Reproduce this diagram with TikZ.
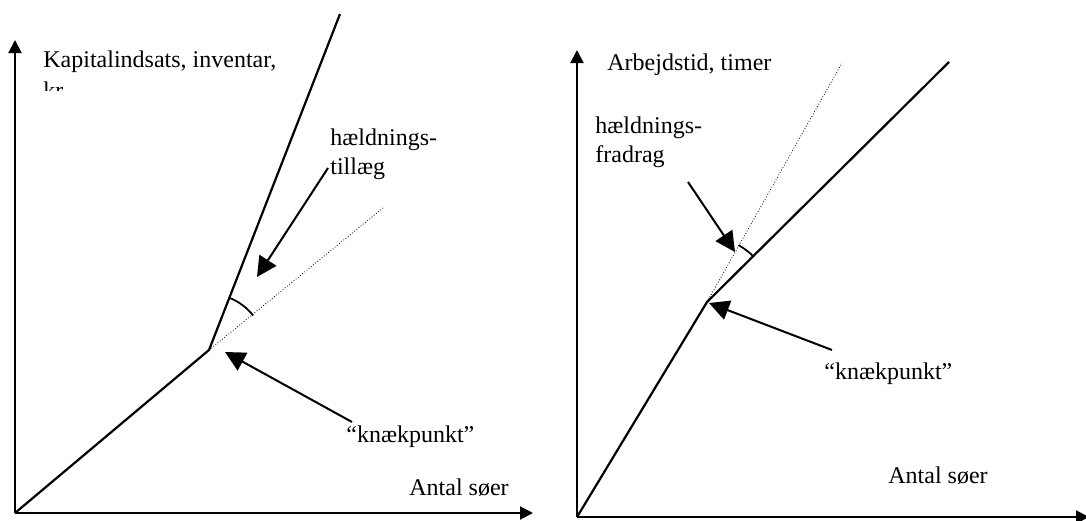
\documentclass[tikz,border=0pt]{standalone}
\usepackage{fontspec}
\setmainfont{Liberation Serif}
\usetikzlibrary{arrows.meta}

\begin{document}
\begin{tikzpicture}[x=0.5pt,y=-0.5pt,
                    axis line/.style={line width=1pt,-{Triangle[length=6.5pt,width=6.5pt]}},
                    curve line/.style={line width=1.1pt},
                    guide line/.style={line width=0.4pt,densely dotted},
                    pointer/.style={line width=1pt,-{Triangle[length=10pt,width=10pt]}},
                    angle mark/.style={line width=0.9pt},
                    label text/.style={inner sep=0pt,anchor=base west,font=\fontsize{12pt}{14pt}\selectfont}]
\useasboundingbox (0,0) rectangle (1086,520);

% left diagram
\coordinate (o1) at (15,513);
\coordinate (ytop1) at (15,40);
\coordinate (xend1) at (533,513);
\coordinate (kink1) at (209,350);
\coordinate (steep1) at (340,14);
\coordinate (dot1) at (383,208);
\coordinate (from tillaeg) at (328,168);
\coordinate (to tillaeg) at (257,277);
\coordinate (from knaek1) at (352,422);
\coordinate (to knaek1) at (225,352);

\draw[axis line] (o1) -- (ytop1);
\draw[axis line] (o1) -- (xend1);
\draw[curve line] (o1) -- (kink1) -- (steep1);
\draw[guide line] (kink1) -- (dot1);
\draw[angle mark] (kink1) ++(-38:56) arc[start angle=-38, end angle=-68, radius=56];
\draw[pointer] (from tillaeg) -- (to tillaeg);
\draw[pointer] (from knaek1) -- (to knaek1);

\node[label text] (kapital) at (43,67) {Kapitalindsats, inventar,};
\begin{scope}
  \clip (0,0) rectangle (330,90);
  \node[label text] (kr) at (43,98) {kr.};
\end{scope}
\node[label text] (haeld1) at (330,145) {hældnings-};
\node[label text] (tillaeg) at (330,174) {tillæg};
\node[label text] (knaek1) at (346,442) {“knækpunkt”};
\node[label text] (antal1) at (409,495) {Antal søer};

% right diagram
\coordinate (o2) at (577,517);
\coordinate (ytop2) at (577,50);
\coordinate (xend2) at (1089,517);
\coordinate (kink2) at (707,302);
\coordinate (steep2) at (949,62);
\coordinate (dot2) at (842,63);
\coordinate (from fradrag) at (688,182);
\coordinate (to fradrag) at (735,252);
\coordinate (from knaek2) at (832,350);
\coordinate (to knaek2) at (709,303);

\draw[axis line] (o2) -- (ytop2);
\draw[axis line] (o2) -- (xend2);
\draw[curve line] (o2) -- (kink2) -- (steep2);
\draw[guide line] (kink2) -- (dot2);
\draw[angle mark] (kink2) ++(-61:65) arc[start angle=-61, end angle=-44, radius=65];
\draw[pointer] (from fradrag) -- (to fradrag);
\draw[pointer] (from knaek2) -- (to knaek2);

\node[label text] (arbejd) at (607,70) {Arbejdstid, timer};
\node[label text] (haeld2) at (595,133) {hældnings-};
\node[label text] (fradrag) at (595,162) {fradrag};
\node[label text] (knaek2) at (824,379) {“knækpunkt”};
\node[label text] (antal2) at (888,483) {Antal søer};

\end{tikzpicture}
\end{document}
